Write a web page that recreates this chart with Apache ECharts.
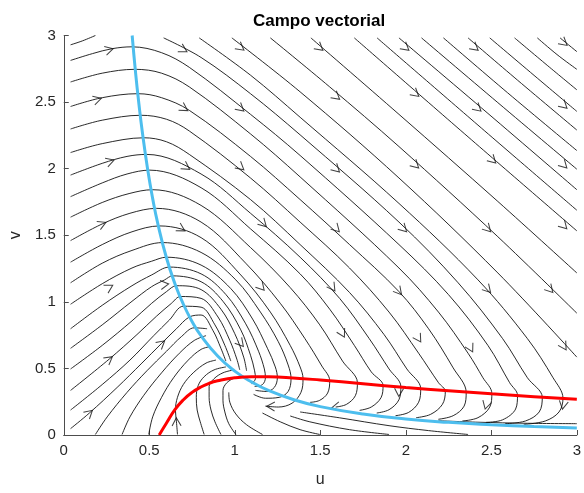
<!DOCTYPE html>
<html><head><meta charset="utf-8">
<script src="https://cdn.jsdelivr.net/npm/echarts@6/dist/echarts.min.js"></script>
<style>html,body{margin:0;padding:0;background:#fff}#c{width:584px;height:493px}</style>
</head><body><div id="c"></div>
<script>
const uTicks = [0, 0.5, 1, 1.5, 2, 2.5, 3];
const vTicks = [0, 0.5, 1, 1.5, 2, 2.5, 3];
const titleText = 'Campo vectorial';
const uLabel = 'u';
const vLabel = 'v';

// v-nullcline (blue) and u-nullcline (red)
const blueCurve = [[0.40,3.0],[0.42,2.72],[0.44,2.48],[0.46,2.27],[0.49,2.0],[0.52,1.775],[0.55,1.587],[0.6,1.333],[0.65,1.136],[0.7,0.98],[0.75,0.853],[0.8,0.75],[0.9,0.593],[1.0,0.48],[1.1,0.397],[1.2,0.333],[1.35,0.263],[1.5,0.213],[1.75,0.157],[2.0,0.12],[2.25,0.095],[2.5,0.077],[2.75,0.063],[3.0,0.053]];
const redCurve = [[0.558,0],[0.6,0.088],[0.65,0.19],[0.7,0.265],[0.75,0.32],[0.8,0.359],[0.85,0.388],[0.9,0.407],[1.0,0.43],[1.1,0.438],[1.2,0.437],[1.3,0.432],[1.5,0.413],[1.75,0.385],[2.0,0.357],[2.25,0.332],[2.5,0.309],[2.75,0.288],[3.0,0.268]];

// streamlines entering from the top edge
const topStreams = [
 [[2.902,2.982],[3.0,2.879]],
 [[2.769,2.982],[2.884,2.857],[3.0,2.746]],
 [[2.636,2.982],[2.827,2.776],[3.0,2.592]],
 [[2.491,2.982],[2.769,2.680],[3.0,2.430]],
 [[2.364,2.982],[2.653,2.665],[3.0,2.290]],
 [[2.220,2.982],[2.595,2.570],[3.0,2.136]],
 [[2.092,2.982],[2.538,2.496],[3.0,1.996]],
 [[1.960,2.982],[2.480,2.415],[3.0,1.842]],
 [[1.832,2.982],[2.422,2.327],[3.0,1.688]],
 [[1.699,2.982],[2.364,2.239],[3.0,1.533]],
 [[1.445,2.982],[1.960,2.408],[2.538,1.754],[3.0,1.217]],
 [[1.208,2.982],[1.555,2.614],[1.960,2.166],[2.538,1.489],[3.0,0.915]],
 [[0.983,2.982],[1.382,2.577],[1.960,1.930],[2.538,1.217],[3.0,0.585]],
 [[0.792,2.982],[1.092,2.702],[1.382,2.386],[1.960,1.739],[2.422,1.165],[2.711,0.724],[2.861,0.430],[2.919,0.276],[2.896,0.173],[2.815,0.105],[2.69,0.08]],
 [[0.584,2.982],[0.803,2.835],[1.092,2.563],[1.382,2.254],[1.960,1.599],[2.306,1.143],[2.566,0.724],[2.711,0.430],[2.798,0.283],[2.780,0.173],[2.699,0.105],[2.58,0.085]]
];

// streamlines entering from the left edge, arching over the blue curve
const archStreams = [
 [[0.04,2.93],[0.11,2.96],[0.185,3.0]],
 [[0.040,2.813],[0.168,2.864],[0.283,2.901],[0.399,2.915],[0.572,2.871],[0.734,2.761],[1.092,2.408],[1.382,2.099],[1.960,1.430],[2.249,1.055],[2.480,0.673],[2.607,0.393],[2.653,0.298],[2.642,0.195],[2.566,0.114],[2.47,0.095]],
 [[0.040,2.651],[0.225,2.717],[0.416,2.746],[0.572,2.717],[0.734,2.614],[1.092,2.261],[1.382,1.938],[1.960,1.254],[2.191,0.923],[2.364,0.614],[2.451,0.430],[2.503,0.3125],[2.491,0.210],[2.422,0.13],[2.33,0.105]],
 [[0.040,2.467],[0.225,2.533],[0.434,2.563],[0.572,2.533],[0.734,2.438],[1.092,2.092],[1.382,1.768],[1.671,1.430],[1.960,1.077],[2.133,0.798],[2.277,0.504],[2.353,0.320],[2.341,0.217],[2.277,0.145],[2.19,0.118]],
 [[0.040,2.298],[0.225,2.364],[0.451,2.401],[0.601,2.371],[0.734,2.283],[1.092,1.930],[1.382,1.599],[1.671,1.254],[1.902,0.923],[2.075,0.614],[2.191,0.393],[2.231,0.327],[2.214,0.230],[2.145,0.155],[2.06,0.13]],
 [[0.040,2.121],[0.225,2.188],[0.468,2.232],[0.601,2.202],[0.734,2.107],[1.092,1.768],[1.382,1.430],[1.671,1.070],[1.873,0.754],[2.006,0.496],[2.087,0.349],[2.075,0.246],[2.017,0.17],[1.94,0.145]],
 [[0.040,1.952],[0.225,2.040],[0.370,2.092],[0.486,2.107],[0.803,1.960],[1.092,1.665],[1.382,1.335],[1.613,1.026],[1.786,0.724],[1.902,0.496],[1.971,0.364],[1.960,0.265],[1.902,0.19],[1.83,0.165]],
 [[0.040,1.790],[0.225,1.893],[0.370,1.960],[0.503,1.989],[0.803,1.857],[1.092,1.548],[1.382,1.210],[1.555,0.945],[1.699,0.673],[1.798,0.474],[1.867,0.371],[1.855,0.28],[1.798,0.21],[1.73,0.185]],
 [[0.040,1.636],[0.225,1.746],[0.382,1.813],[0.520,1.842],[0.803,1.724],[1.092,1.408],[1.324,1.107],[1.497,0.827],[1.630,0.555],[1.717,0.393],[1.705,0.295],[1.653,0.23],[1.59,0.21]],
 [[0.040,1.460],[0.225,1.585],[0.387,1.665],[0.543,1.702],[0.803,1.599],[1.064,1.290],[1.266,0.989],[1.410,0.724],[1.509,0.518],[1.555,0.408],[1.543,0.315],[1.496,0.26],[1.44,0.245]],
 [[0.040,1.298],[0.225,1.430],[0.399,1.526],[0.561,1.570],[0.803,1.482],[1.035,1.202],[1.208,0.923],[1.324,0.673],[1.382,0.511],[1.399,0.423],[1.387,0.320],[1.335,0.239],[1.254,0.210],[1.179,0.217]]
];

// streamlines from the left edge that converge on the blue curve and wind into the equilibrium
const spiralStreams = [
 [[0.040,1.143],[0.225,1.290],[0.399,1.386],[0.578,1.445],[0.803,1.371],[1.006,1.165],[1.150,0.923],[1.254,0.702],[1.312,0.526],[1.329,0.423],[1.312,0.327],[1.260,0.283],[1.179,0.276],[1.110,0.305]],
 [[0.040,0.982],[0.225,1.136],[0.399,1.254],[0.514,1.305],[0.601,1.335],[0.803,1.276],[0.977,1.099],[1.104,0.871],[1.191,0.651],[1.237,0.511],[1.249,0.430],[1.231,0.357],[1.185,0.327],[1.121,0.335]],
 [[0.040,0.798],[0.225,0.974],[0.399,1.121],[0.514,1.202],[0.618,1.261],[0.803,1.210],[0.948,1.055],[1.064,0.835],[1.139,0.629],[1.173,0.496],[1.179,0.430],[1.162,0.379],[1.116,0.364]],
 [[0.040,0.651],[0.225,0.827],[0.399,1.004],[0.514,1.114],[0.590,1.165],[0.636,1.195],[0.803,1.151],[0.931,1.004],[1.035,0.790],[1.092,0.599],[1.116,0.482],[1.121,0.423],[1.098,0.386]],
 [[0.040,0.496],[0.225,0.673],[0.399,0.857],[0.514,0.989],[0.601,1.077],[0.659,1.121],[0.803,1.092],[0.919,0.945],[1.000,0.761],[1.052,0.585],[1.069,0.482]],
 [[0.040,0.335],[0.266,0.570],[0.428,0.754],[0.543,0.893],[0.630,0.989],[0.682,1.040],[0.803,1.026],[0.902,0.886],[0.971,0.710],[1.012,0.570],[1.029,0.489]],
 [[0.040,0.1875],[0.225,0.379],[0.387,0.5625],[0.526,0.746],[0.618,0.864],[0.699,0.967],[0.803,0.960],[0.884,0.827],[0.942,0.673],[0.977,0.555]],
 [[0.040,0.048],[0.150,0.165],[0.312,0.357],[0.457,0.540],[0.572,0.688],[0.659,0.798],[0.734,0.886],[0.803,0.901],[0.873,0.783],[0.919,0.651],[0.948,0.555]]
];

// streamlines rising from the bottom edge
const bottomStreams = [
 [[0.185,0.004],[0.254,0.136],[0.370,0.320],[0.486,0.482],[0.601,0.629],[0.688,0.739],[0.763,0.805],[0.838,0.798]],
 [[0.341,0.004],[0.387,0.136],[0.468,0.298],[0.572,0.467],[0.676,0.614],[0.763,0.710],[0.832,0.746]],
 [[0.497,0.004],[0.520,0.136],[0.572,0.283],[0.642,0.430],[0.728,0.5625],[0.803,0.643],[0.861,0.665]],
 [[0.665,0.004],[0.659,0.099],[0.653,0.1875],[0.665,0.283],[0.699,0.379],[0.757,0.467],[0.832,0.540],[0.890,0.5625]],
 [[0.821,0.004],[0.798,0.099],[0.780,0.1875],[0.775,0.283],[0.786,0.371],[0.821,0.438],[0.879,0.489],[0.948,0.511]],
 [[0.919,0.004],[0.884,0.099],[0.861,0.1875],[0.850,0.283],[0.850,0.364],[0.879,0.423],[0.931,0.467],[0.994,0.489]],
 [[1.006,0.004],[0.965,0.085],[0.942,0.173],[0.931,0.261],[0.931,0.335],[0.954,0.393],[1.000,0.430]],
 [[1.162,0.004],[1.069,0.077],[1.006,0.158],[0.971,0.246],[0.965,0.320]]
];

// streamlines near the bottom right, running left along the blue curve
const lowerStreams = [
 [[3.0,0.085],[2.711,0.088],[2.422,0.096],[2.191,0.107]],
 [[2.364,0.004],[2.133,0.033],[1.902,0.070],[1.613,0.129],[1.382,0.173]],
 [[1.902,0.004],[1.671,0.040],[1.439,0.099],[1.324,0.143]],
 [[1.497,0.004],[1.382,0.040],[1.266,0.099],[1.162,0.165]]
];

// arrowheads: [u, v, direction in degrees]
const arrowMarks = [
 [0.266,2.893,15],[0.197,2.52,16],[0.272,2.055,18],[0.225,1.585,24],[0.266,1.11,30],
 [0.59,1.13,8],[0.266,0.57,38],[0.572,0.688,40],[0.15,0.165,42],[0.659,0.099,92],
 [0.70,2.893,-30],[0.705,2.452,-32],[1.035,2.908,-38],[1.035,2.452,-40],[0.717,2.011,-33],
 [1.035,2.011,-40],[0.688,1.548,-30],[1.168,1.585,-45],[1.156,1.11,-48],[1.035,0.688,-50],
 [1.497,2.908,-40],[1.595,2.54,-40],[2.0,2.908,-40],[2.058,2.562,-40],[2.405,2.908,-40],
 [2.422,2.452,-42],[2.925,2.945,-40],[2.925,2.474,-42],[1.595,1.996,-43],[2.058,2.026,-43],
 [2.509,2.063,-44],[2.925,2.026,-45],[1.595,1.548,-46],[1.988,1.548,-45],[2.48,1.548,-46],
 [2.925,1.57,-46],[1.572,1.107,-55],[1.96,1.077,-50],[2.48,1.092,-48],[2.844,1.092,-48],
 [1.63,0.761,-62],[2.075,0.724,-58],[2.38,0.651,-62],[2.925,0.665,-58],[1.96,0.32,-92],
 [2.47,0.224,-105],[2.92,0.224,-100],[1.59,0.21,-170],[1.21,0.215,178]
];

const chart = echarts.init(document.getElementById('c'), null, {renderer: 'canvas'});
const streamStyle = {color: '#111', width: 0.9};
const allStreams = [].concat(topStreams, archStreams, spiralStreams, bottomStreams, lowerStreams);
const series = allStreams.map(pts => ({
  type: 'line', data: pts, smooth: 0.35, symbol: 'none', showSymbol: false,
  lineStyle: streamStyle, silent: true, z: 2, animation: false
}));
series.push({type: 'scatter', data: arrowMarks, symbol: 'path://M0,0L10,5L0,10',
  symbolSize: [8, 9], symbolRotate: v => v[2], silent: true, z: 3, animation: false,
  itemStyle: {color: 'rgba(0,0,0,0)', borderColor: '#111', borderWidth: 1}});
series.push({type: 'line', data: blueCurve, smooth: true, symbol: 'none', silent: true, z: 4, animation: false,
  lineStyle: {color: '#4DBEEE', width: 3}});
series.push({type: 'line', data: redCurve, smooth: true, symbol: 'none', silent: true, z: 5, animation: false,
  lineStyle: {color: '#FF0000', width: 3}});

const axisCommon = {
  type: 'value', interval: 0.5,
  axisLine: {show: true, onZero: false, lineStyle: {color: '#4d4d4d', width: 1}},
  axisTick: {show: true, inside: true, length: 5, lineStyle: {color: '#4d4d4d'}},
  axisLabel: {color: '#262626', fontSize: 15, margin: 8, fontFamily: 'Liberation Sans'},
  splitLine: {show: false},
  nameLocation: 'middle',
  nameTextStyle: {color: '#262626', fontSize: 16, fontFamily: 'Liberation Sans'}
};
chart.setOption({
  animation: false,
  backgroundColor: '#fff',
  title: {text: titleText, left: 248, top: 8,
    textStyle: {fontSize: 17, fontWeight: 'bold', color: '#000', fontFamily: 'Liberation Sans'}},
  grid: {left: 61, right: 4, top: 35.5, bottom: 49.5},
  xAxis: Object.assign({}, axisCommon, {min: uTicks[0], max: uTicks[uTicks.length - 1], name: uLabel, nameGap: 37}),
  yAxis: Object.assign({}, axisCommon, {min: vTicks[0], max: vTicks[vTicks.length - 1], name: vLabel, nameGap: 38}),
  series: series
});
</script></body></html>
